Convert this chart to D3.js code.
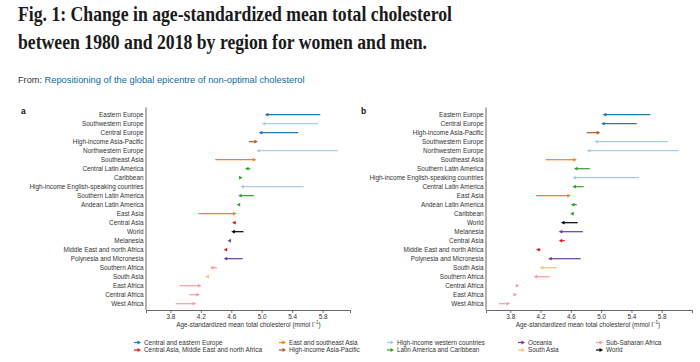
<!DOCTYPE html>
<html>
<head>
<meta charset="utf-8">
<script src="https://cdn.jsdelivr.net/npm/d3@7"></script>
<style>
  body { margin: 0; background: #fff; }
  svg text { font-family: "Liberation Sans", Arial, sans-serif; }
</style>
</head>
<body>
<svg id="chart" width="700" height="362"></svg>
<script>
// Panel a: women, panel b: men (mmol/l, 1980 -> 2018)
const regionsWomen = [
    'Eastern Europe', 'Southwestern Europe', 'Central Europe', 'High-income Asia-Pacific',
    'Northwestern Europe', 'Southeast Asia', 'Central Latin America', 'Caribbean',
    'High-income English-speaking countries', 'Southern Latin America', 'Andean Latin America',
    'East Asia', 'Central Asia', 'World', 'Melanesia', 'Middle East and north Africa',
    'Polynesia and Micronesia', 'Southern Africa', 'South Asia', 'East Africa',
    'Central Africa', 'West Africa'
];
const women1980 = [5.77, 5.74, 5.48, 4.83, 6.00, 4.39, 4.85, 4.71, 5.55, 4.90, 4.71,
    4.17, 4.66, 4.76, 4.59, 4.54, 4.75, 4.41, 4.29, 3.92, 4.05, 3.87];
const women2018 = [5.04, 5.00, 4.96, 4.95, 4.93, 4.93, 4.78, 4.75, 4.72, 4.69, 4.67,
    4.67, 4.61, 4.60, 4.55, 4.50, 4.50, 4.32, 4.26, 4.21, 4.19, 4.14];

const regionsMen = [
    'Eastern Europe', 'Central Europe', 'High-income Asia-Pacific', 'Southwestern Europe',
    'Northwestern Europe', 'Southeast Asia', 'Southern Latin America',
    'High-income English-speaking countries', 'Central Latin America', 'East Asia',
    'Andean Latin America', 'Caribbean', 'World', 'Melanesia', 'Central Asia',
    'Middle East and north Africa', 'Polynesia and Micronesia', 'South Asia',
    'Southern Africa', 'Central Africa', 'East Africa', 'West Africa'
];
const men1980 = [5.65, 5.47, 4.81, 5.88, 6.02, 4.27, 4.85, 5.50, 4.77, 4.14, 4.68,
    4.64, 4.69, 4.76, 4.52, 4.20, 4.73, 4.41, 4.32, 3.89, 3.85, 3.65];
const men2018 = [5.02, 5.00, 4.99, 4.91, 4.81, 4.68, 4.64, 4.62, 4.62, 4.60, 4.60,
    4.59, 4.47, 4.44, 4.44, 4.14, 4.30, 4.19, 4.11, 3.92, 3.89, 3.80];

// super-regions (legend order, column by column)
const superRegions = [
    'Central and eastern Europe', 'Central Asia, Middle East and north Africa',
    'East and southeast Asia', 'High-income Asia-Pacific',
    'High-income western countries', 'Latin America and Caribbean',
    'Oceania', 'South Asia',
    'Sub-Saharan Africa', 'World'
];
const superColors = ['#1f78b4', '#e31a1c', '#ff7f00', '#b15928', '#a6cee3',
    '#33a02c', '#6a3d9a', '#fdbf6f', '#fb9a99', '#000000'];

const superOf = {
    'Eastern Europe': 'Central and eastern Europe',
    'Central Europe': 'Central and eastern Europe',
    'Central Asia': 'Central Asia, Middle East and north Africa',
    'Middle East and north Africa': 'Central Asia, Middle East and north Africa',
    'Southeast Asia': 'East and southeast Asia',
    'East Asia': 'East and southeast Asia',
    'High-income Asia-Pacific': 'High-income Asia-Pacific',
    'Southwestern Europe': 'High-income western countries',
    'Northwestern Europe': 'High-income western countries',
    'High-income English-speaking countries': 'High-income western countries',
    'Central Latin America': 'Latin America and Caribbean',
    'Caribbean': 'Latin America and Caribbean',
    'Southern Latin America': 'Latin America and Caribbean',
    'Andean Latin America': 'Latin America and Caribbean',
    'Melanesia': 'Oceania',
    'Polynesia and Micronesia': 'Oceania',
    'South Asia': 'South Asia',
    'Southern Africa': 'Sub-Saharan Africa',
    'East Africa': 'Sub-Saharan Africa',
    'Central Africa': 'Sub-Saharan Africa',
    'West Africa': 'Sub-Saharan Africa',
    'World': 'World'
};

const xTicks = [3.8, 4.2, 4.6, 5.0, 5.4, 5.8];

const color = d3.scaleOrdinal().domain(superRegions).range(superColors);
const svg = d3.select('#chart');

// Title block
svg.append('text')
    .attr('x', 18).attr('y', 21)
    .attr('textLength', 434).attr('lengthAdjust', 'spacingAndGlyphs')
    .style('font-family', '"Liberation Serif", serif')
    .style('font-weight', 'bold').style('font-size', '20.5px').attr('fill', '#1a1a1a')
    .text('Fig. 1: Change in age-standardized mean total cholesterol');
svg.append('text')
    .attr('x', 18).attr('y', 49)
    .attr('textLength', 409).attr('lengthAdjust', 'spacingAndGlyphs')
    .style('font-family', '"Liberation Serif", serif')
    .style('font-weight', 'bold').style('font-size', '20.5px').attr('fill', '#1a1a1a')
    .text('between 1980 and 2018 by region for women and men.');
svg.append('text')
    .attr('x', 18).attr('y', 82.5)
    .attr('textLength', 24).attr('lengthAdjust', 'spacingAndGlyphs')
    .style('font-size', '9.5px').attr('fill', '#333')
    .text('From:');
svg.append('text')
    .attr('x', 44.5).attr('y', 82.5)
    .attr('textLength', 260).attr('lengthAdjust', 'spacingAndGlyphs')
    .style('font-size', '9.5px').attr('fill', '#0a6aa1')
    .text('Repositioning of the global epicentre of non-optimal cholesterol');

const panels = [
    {label: 'a', labelX: 21, regions: regionsWomen, v1980: women1980, v2018: women2018, x0: 146, x1: 350, domain: [3.48, 6.16]},
    {label: 'b', labelX: 361, regions: regionsMen, v1980: men1980, v2018: men2018, x0: 486, x1: 692, domain: [3.48, 6.2]}
];

const rowTop = 114.7, rowBottom = 303.7, axisY = 310;

panels.forEach(p => {
    const g = svg.append('g');
    const x = d3.scaleLinear().domain(p.domain).range([p.x0, p.x1]);
    const y = d3.scalePoint().domain(p.regions).range([rowTop, rowBottom]);

    g.append('text')
        .attr('x', p.labelX).attr('y', 114)
        .style('font-weight', 'bold').style('font-size', '8.5px').attr('fill', '#111')
        .text(p.label);

    // y axis line
    g.append('line')
        .attr('x1', p.x0).attr('x2', p.x0)
        .attr('y1', 107.5).attr('y2', axisY)
        .attr('stroke', '#555').attr('stroke-width', 0.9);

    // region labels
    g.selectAll('.rlabel')
        .data(p.regions)
        .enter()
        .append('text')
        .attr('x', p.x0 - 2.5)
        .attr('y', d => y(d))
        .attr('dy', '0.35em')
        .attr('text-anchor', 'end')
        .style('font-size', '6.4px')
        .attr('fill', '#333')
        .text(d => d);

    // x axis
    const xAxis = d3.axisBottom(x)
        .tickValues(xTicks)
        .tickFormat(d3.format('.1f'))
        .tickSizeOuter(0)
        .tickSize(3)
        .tickPadding(1.5);
    const ax = g.append('g')
        .attr('transform', `translate(0,${axisY})`)
        .call(xAxis);
    ax.select('.domain').attr('stroke', '#555').attr('stroke-width', 0.9);
    ax.selectAll('.tick line').attr('stroke', '#555').attr('stroke-width', 0.8);
    ax.selectAll('.tick text')
        .style('font-size', '6.4px')
        .style('font-family', '"Liberation Sans", Arial, sans-serif')
        .attr('fill', '#333');

    const title = g.append('text')
        .attr('x', (x(3.8) + x(5.8)) / 2 + 2)
        .attr('y', 326.5)
        .attr('text-anchor', 'middle')
        .style('font-size', '6.4px')
        .attr('fill', '#333');
    title.append('tspan').text('Age-standardized mean total cholesterol (mmol l');
    title.append('tspan').attr('dy', -2.2).style('font-size', '4.5px').text('\u22121');
    title.append('tspan').attr('dy', 2.2).text(')');

    // arrows
    const rows = p.regions.map((r, i) => ({region: r, from: p.v1980[i], to: p.v2018[i]}));
    const arrows = g.selectAll('.arrow')
        .data(rows)
        .enter()
        .append('g');

    const headLen = 3.6, headHalf = 1.9;
    arrows.append('line')
        .attr('x1', d => x(d.from))
        .attr('x2', d => {
            const dir = Math.sign(x(d.to) - x(d.from)) || 1;
            return x(d.to) - dir * headLen * 0.8;
        })
        .attr('y1', d => y(d.region))
        .attr('y2', d => y(d.region))
        .attr('stroke', d => color(superOf[d.region]))
        .attr('stroke-width', 1.2);

    arrows.append('path')
        .attr('d', d => {
            const tip = x(d.to), cy = y(d.region);
            const dir = Math.sign(x(d.to) - x(d.from)) || 1;
            const base = tip - dir * headLen;
            return `M${tip},${cy}L${base},${cy - headHalf}L${base},${cy + headHalf}Z`;
        })
        .attr('fill', d => color(superOf[d.region]));
});

// Legend
const legendCols = [144, 289, 397, 528, 606];
const legendRows = [342.5, 350];
const legend = svg.append('g');
superRegions.forEach((name, i) => {
    const lx = legendCols[Math.floor(i / 2)];
    const ly = legendRows[i % 2];
    const c = color(name);
    legend.append('line')
        .attr('x1', lx - 10).attr('x2', lx - 5.5)
        .attr('y1', ly).attr('y2', ly)
        .attr('stroke', c).attr('stroke-width', 1.2);
    legend.append('path')
        .attr('d', `M${lx - 3},${ly}L${lx - 6.5},${ly - 1.9}L${lx - 6.5},${ly + 1.9}Z`)
        .attr('fill', c);
    legend.append('text')
        .attr('x', lx).attr('y', ly)
        .attr('dy', '0.35em')
        .style('font-size', '6.4px')
        .attr('fill', '#333')
        .text(name);
});
</script>
</body>
</html>
